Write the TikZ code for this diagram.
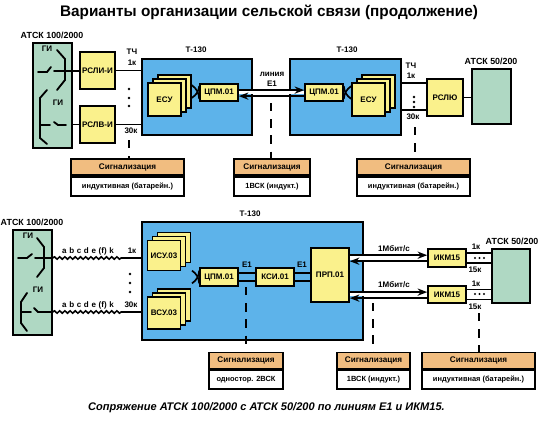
\documentclass[tikz,border=0pt]{standalone}
\usepackage{fontspec}
\setmainfont{Liberation Sans}
\usetikzlibrary{arrows.meta, positioning, calc, decorations.pathmorphing}
\definecolor{bluefill}{HTML}{5DB3EA}
\definecolor{yelfill}{HTML}{FAF18C}
\definecolor{grnfill}{HTML}{AFD8C3}
\definecolor{orgfill}{HTML}{F1BD80}

\begin{document}
\begin{tikzpicture}[
    x=0.025cm, y=-0.025cm,
    yel/.style={draw, line width=1.1pt, fill=yelfill, inner sep=0pt, align=center, font=\fontsize{5.7}{6}\selectfont\bfseries},
    grn/.style={draw, line width=1.2pt, fill=grnfill, inner sep=0pt},
    blu/.style={draw, line width=1.2pt, fill=bluefill, inner sep=0pt},
    sighead/.style={draw, line width=1.2pt, fill=orgfill, inner sep=0pt, minimum height=4mm, font=\fontsize{5.8}{6}\selectfont\bfseries},
    sigbody/.style={draw, line width=1.2pt, fill=white, inner sep=0pt, minimum height=4.75mm, font=\fontsize{5.3}{6}\selectfont\bfseries},
    lbl/.style={inner sep=0pt, font=\fontsize{5.7}{6}\selectfont\bfseries},
    atsk/.style={inner sep=0pt, font=\fontsize{6.3}{7}\selectfont\bfseries},
    wire/.style={line width=1.3pt},
    sw/.style={line width=1.3pt, line cap=round},
    rel/.style={-{Stealth[length=2.4mm,width=1.8mm]}, line width=1.1pt},
    sigline/.style={line width=1.2pt, dash pattern=on 6pt off 5.5pt},
    cross/.style={line width=1.2pt},
    wavy/.style={line width=1.1pt, decorate, decoration={snake, amplitude=.3mm, segment length=1.3mm}}
]
\useasboundingbox (0,0) rectangle (560,421);

\node[inner sep=0pt, font=\fontsize{10.9}{12}\selectfont\bfseries] (title) at (269,12) {Варианты организации сельской связи (продолжение)};
\node[inner sep=0pt, font=\fontsize{7.85}{9}\selectfont\bfseries\itshape] (caption) at (266.5,408) {Сопряжение АТСК 100/2000 с АТСК 50/200 по линиям Е1 и ИКМ15.};

% upper scheme
\node[atsk] (atskA) at (52,35) {АТСК 100/2000};
\node[grn, minimum width=.975cm, minimum height=2.625cm] (grnA) at (52.5,95.5) {};
\node[yel, minimum width=.875cm, minimum height=.925cm] (rsli) at (97.5,70.5) {РСЛИ-И};
\node[yel, minimum width=.875cm, minimum height=.925cm] (rslv) at (97.5,124.5) {РСЛВ-И};
\node[blu, minimum width=2.75cm, minimum height=1.9cm] (bluA) at (197,97) {};
\node[blu, minimum width=2.775cm, minimum height=1.9cm] (bluB) at (345.5,97) {};
\node[lbl] (tA) at (196,50) {Т-130};
\node[lbl] (tB) at (347,50) {Т-130};

\foreach \i/\dx in {3/10,2/5,1/0} {
    \node[yel, minimum width=.825cm, minimum height=.825cm] (esuA\i) at (164.5+\dx,99.5-0.8*\dx) {\ifnum\i=1 ЕСУ\fi};
    \node[yel, minimum width=.825cm, minimum height=.825cm] (esuB\i) at (368.5+\dx,99.5-0.8*\dx) {\ifnum\i=1 ЕСУ\fi};
}
\node[yel, minimum width=.95cm, minimum height=.425cm] (cpmA) at (219,92.5) {ЦПМ.01};
\node[yel, minimum width=.95cm, minimum height=.425cm] (cpmB) at (324,92.5) {ЦПМ.01};

\node[yel, minimum width=.9cm, minimum height=.925cm] (rslu) at (445,97.5) {РСЛЮ};
\node[grn, minimum width=.975cm, minimum height=1.375cm] (grnB) at (491.5,96.5) {};
\node[atsk] (atskB) at (491,61) {АТСК 50/200};

\node[lbl] (tchA) at (132,52) {ТЧ};
\node[lbl] (oneA) at (132,63) {1к};
\node[lbl] (thA) at (131,131) {30к};
\node[lbl] (tchB) at (411,66) {ТЧ};
\node[lbl] (oneB) at (411,76) {1к};
\node[lbl] (thB) at (413,117) {30к};
\node[lbl] (lineE) at (272,74) {линия};
\node[lbl] (eOne) at (272,84) {Е1};

\draw[wire] (rsli.east) -- (rsli.east -| bluA.west);
\draw[wire] (rslv.east) -- (rslv.east -| bluA.west);
\draw[wire] ([yshift=3.4mm]bluB.east) -- ([yshift=3.4mm]bluB.east -| rslu.west);
\draw[wire] ([yshift=-3.3mm]bluB.east) -- ([yshift=-3.3mm]bluB.east -| rslu.west);
\draw[wire] (rslu.east) -- (rslu.east -| grnB.west);
\draw[wire] (rsli.west) -- (rsli.west -| grnA.east);
\draw[wire] (rslv.west) -- (rslv.west -| grnA.east);

\draw[white, line width=2.2pt] (cpmA.east) -- (cpmB.west);
\draw[rel] ([yshift=.6mm]cpmA.east) -- ([yshift=.6mm]cpmB.west);
\draw[rel] ([yshift=-.9mm]cpmB.west) -- ([yshift=-.9mm]cpmA.east);

\draw[cross] ([yshift=-1.6mm]cpmA.west) to[bend right=25] ([yshift=1.6mm]esuA3.east);
\draw[cross] ([yshift=1.6mm]cpmA.west) to[bend left=25] ([yshift=-1.6mm]esuA3.east);
\draw[cross] ([yshift=1.6mm]cpmB.east) to[bend right=25] ([yshift=-1.6mm]cpmB.east -| esuB1.west);
\draw[cross] ([yshift=-1.6mm]cpmB.east) to[bend left=25] ([yshift=1.6mm]cpmB.east -| esuB1.west);

% switches
\node[lbl] (giA) at (47,49) {ГИ};
\node[lbl] (giB) at (58,103) {ГИ};
\draw[sw] (57,50) -- (65,59) -- (65,80) -- (57,90);
\draw[sw] (54,71) -- (80,71);
\draw[sw] (38,72) -- (47,72) -- (51,67);
\draw[sw] (47,90) -- (40,98) -- (40,138) -- (47,144);
\draw[sw] (40,125) -- (50,125);
\draw[sw] (54,122) -- (58,125) -- (66,125);

\foreach \y in {89,98,106} \fill (129,\y) circle (.35mm);
\foreach \y in {97,102,107} \fill (414,\y) circle (.35mm);

\node[sighead, minimum width=2.825cm] (sigA) at (127.5,167) {Сигнализация};
\node[sigbody, minimum width=2.825cm, below=0pt of sigA] (bodyA) {индуктивная (батарейн.)};
\node[sighead, minimum width=1.9cm] (sigB) at (272,167) {Сигнализация};
\node[sigbody, minimum width=1.9cm, below=0pt of sigB] (bodyB) {1ВСК (индукт.)};
\node[sighead, minimum width=2.825cm] (sigC) at (413.5,167) {Сигнализация};
\node[sigbody, minimum width=2.825cm, below=0pt of sigC] (bodyC) {индуктивная (батарейн.)};

\coordinate (dashA) at (129,140);
\coordinate (dashB) at (271,103);
\coordinate (dashC) at (415,127);
\draw[sigline] (dashA) -- (dashA |- sigA.north);
\draw[sigline] (dashB) -- (dashB |- sigB.north);
\draw[sigline] (dashC) -- (dashC |- sigC.north);

% lower scheme
\node[atsk] (atskC) at (32,222) {АТСК 100/2000};
\node[grn, minimum width=.975cm, minimum height=2.625cm] (grnC) at (32.5,282.5) {};
\node[blu, minimum width=5.525cm, minimum height=2.95cm] (bluC) at (252.5,281) {};
\node[lbl] (tC) at (250,214) {Т-130};
\foreach \i/\dx in {3/10,2/5,1/0} {
    \node[yel, minimum width=.825cm, minimum height=.75cm] (isu\i) at (164+\dx,255.5-0.8*\dx) {\ifnum\i=1 ИСУ.03\fi};
    \node[yel, minimum width=.825cm, minimum height=.8cm] (vsu\i) at (164+\dx,313-0.8*\dx) {\ifnum\i=1 ВСУ.03\fi};
}
\node[yel, minimum width=.95cm, minimum height=.45cm] (cpmC) at (219,277) {ЦПМ.01};
\node[yel, minimum width=.95cm, minimum height=.45cm] (ksi) at (275,277) {КСИ.01};
\node[yel, minimum width=.95cm, minimum height=1.35cm] (prp) at (330,275) {ПРП.01};
\node[yel, minimum width=.95cm, minimum height=.45cm] (ikmA) at (447,258) {ИКМ15};
\node[yel, minimum width=.95cm, minimum height=.425cm] (ikmB) at (447,294.5) {ИКМ15};
\node[grn, minimum width=.95cm, minimum height=1.35cm] (grnD) at (511,276) {};
\node[atsk] (atskD) at (512,241) {АТСК 50/200};

\coordinate (wireA) at (123,258);
\coordinate (wireB) at (123,312);
\draw[wavy] (grnC.east |- wireA) -- (wireA);
\draw[wavy] (grnC.east |- wireB) -- (wireB);
\draw[wire] (wireA) -- (wireA -| bluC.west);
\draw[wire] (wireB) -- (wireB -| bluC.west);
\node[lbl] (abcA) at (88,251) {a\,\,b\,\,c\,\,d\,\,e\,\,(f)\,\,k};
\node[lbl] (abcB) at (88,305) {a\,\,b\,\,c\,\,d\,\,e\,\,(f)\,\,k};
\node[lbl] (oneC) at (132,251) {1к};
\node[lbl] (thC) at (131,305) {30к};
\foreach \y in {274,283,292} \fill (130,\y) circle (.35mm);

\draw[wire] ([yshift=1.1mm]cpmC.east) -- ([yshift=1.1mm]ksi.west);
\draw[wire] ([yshift=-1.1mm]cpmC.east) -- ([yshift=-1.1mm]ksi.west);
\draw[wire] ([yshift=1.1mm]ksi.east) -- ([yshift=1.1mm]ksi.east -| prp.west);
\draw[wire] ([yshift=-1.1mm]ksi.east) -- ([yshift=-1.1mm]ksi.east -| prp.west);
\node[lbl] (eTwo) at (247,265) {Е1};
\node[lbl] (eThree) at (302,265) {Е1};

\coordinate (crossC) at (192,277);
\draw[cross] ([yshift=-1.6mm]cpmC.west) to[bend right=25] ([yshift=1.6mm]crossC);
\draw[cross] ([yshift=1.6mm]cpmC.west) to[bend left=25] ([yshift=-1.6mm]crossC);

\draw[white, line width=2.2pt] (ikmA.west -| prp.east) -- (ikmA.west);
\draw[white, line width=2.2pt] (ikmB.west -| prp.east) -- (ikmB.west);
\draw[rel] ([yshift=.7mm]ikmA.west -| prp.east) -- ([yshift=.7mm]ikmA.west);
\draw[rel] ([yshift=-.8mm]ikmA.west) -- ([yshift=-.8mm]ikmA.west -| prp.east);
\draw[rel] ([yshift=.6mm]ikmB.west -| prp.east) -- ([yshift=.6mm]ikmB.west);
\draw[rel] ([yshift=-.9mm]ikmB.west) -- ([yshift=-.9mm]ikmB.west -| prp.east);
\node[lbl] (mbA) at (394,249) {1Мбит/с};
\node[lbl] (mbB) at (394,285) {1Мбит/с};

\draw[wire] ([yshift=1.25mm]ikmA.east) -- ([yshift=1.25mm]ikmA.east -| grnD.west);
\draw[wire] ([yshift=-1.25mm]ikmA.east) -- ([yshift=-1.25mm]ikmA.east -| grnD.west);
\draw[wire] ([yshift=1.25mm]ikmB.east) -- ([yshift=1.25mm]ikmB.east -| grnD.west);
\draw[wire] ([yshift=-1.25mm]ikmB.east) -- ([yshift=-1.25mm]ikmB.east -| grnD.west);
\foreach \x in {475,479.5,484} {
    \fill (\x,258) circle (.3mm);
    \fill (\x,294) circle (.3mm);
}
\node[lbl] (oneD) at (476,247) {1к};
\node[lbl] (fifA) at (475,270) {15к};
\node[lbl] (oneE) at (476,284) {1к};
\node[lbl] (fifB) at (475,307) {15к};

% switches
\node[lbl] (giC) at (28,236) {ГИ};
\node[lbl] (giD) at (38,290) {ГИ};
\draw[sw] (37,238) -- (44,247) -- (44,268) -- (37,277);
\draw[sw] (35,258) -- (52,258);
\draw[sw] (18,258) -- (27,258) -- (32,254);
\draw[sw] (27,293) -- (21,302) -- (21,323) -- (27,331);
\draw[sw] (21,312) -- (31,312);
\draw[sw] (34,308) -- (38,312) -- (52,312);

\node[sighead, minimum width=1.85cm] (sigD) at (246,360.5) {Сигнализация};
\node[sigbody, minimum width=1.85cm, below=0pt of sigD] (bodyD) {одностор. 2ВСК};
\node[sighead, minimum width=1.825cm] (sigE) at (373.5,360.5) {Сигнализация};
\node[sigbody, minimum width=1.825cm, below=0pt of sigE] (bodyE) {1ВСК (индукт.)};
\node[sighead, minimum width=2.825cm] (sigF) at (478.5,360.5) {Сигнализация};
\node[sigbody, minimum width=2.825cm, below=0pt of sigF] (bodyF) {индуктивная (батарейн.)};

\coordinate (dashD) at (246,287);
\coordinate (dashE) at (373,303);
\coordinate (dashF) at (479,313);
\draw[sigline] (dashD) -- (dashD |- sigD.north);
\draw[sigline] (dashE) -- (dashE |- sigE.north);
\draw[sigline] (dashF) -- (dashF |- sigF.north);
\end{tikzpicture}
\end{document}
